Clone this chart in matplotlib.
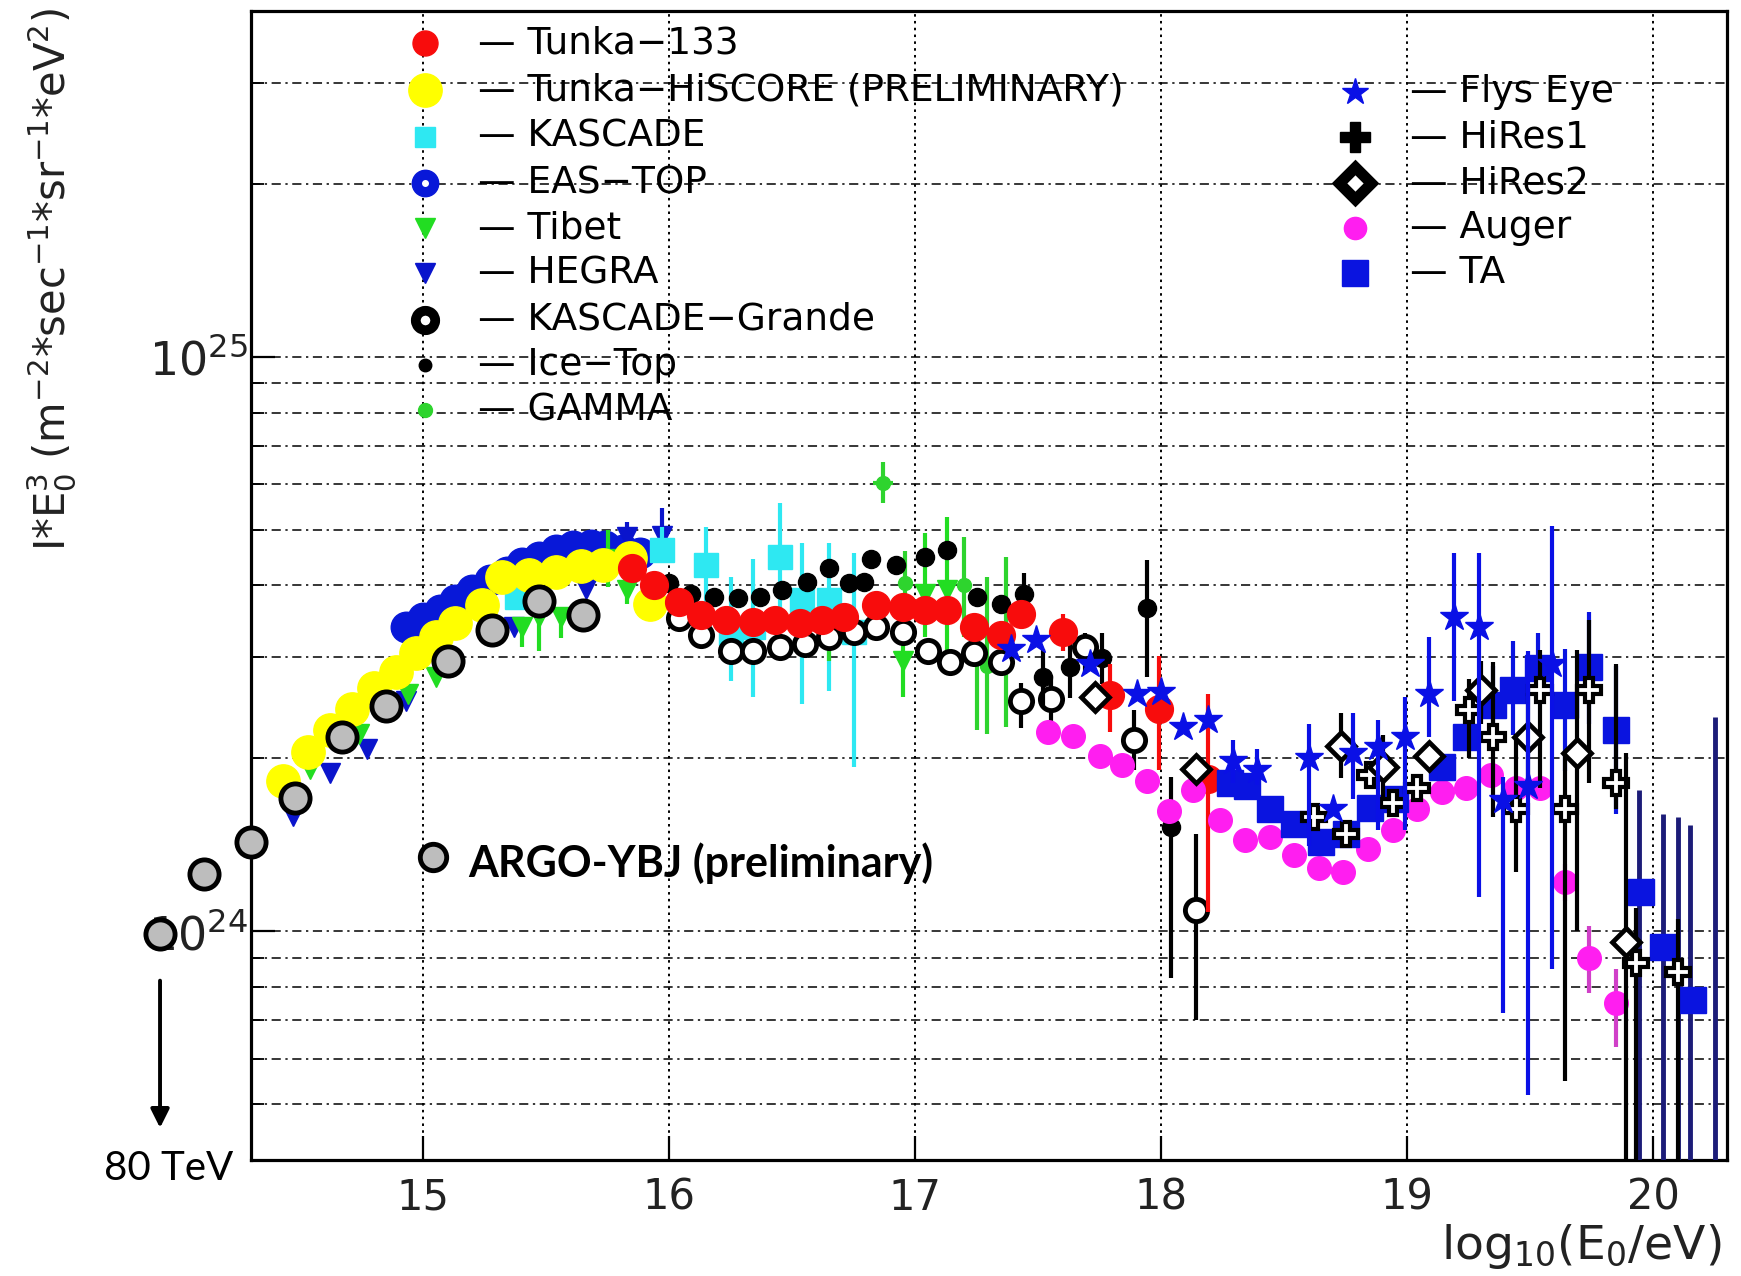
import numpy as np
import matplotlib
matplotlib.use("Agg")
import matplotlib.pyplot as plt
from matplotlib.ticker import LogLocator, FixedLocator, NullFormatter, LogFormatterSciNotation

plt.rcParams['font.family'] = ['DejaVu Sans']
plt.rcParams['mathtext.fontset'] = 'dejavusans'

UNIT = 1e24  # flux values below are in units of 1e24 m^-2 s^-1 sr^-1 eV^2

# ---------------- data: log10(E/eV) and flux (x 1e24) ----------------
argo_x = [13.93, 14.11, 14.30, 14.48, 14.67, 14.85, 15.10, 15.28, 15.47, 15.65]
argo_y = [0.99, 1.26, 1.43, 1.71, 2.18, 2.47, 2.96, 3.34, 3.76, 3.55]

tunka_x = [15.85, 15.94, 16.04, 16.13, 16.23, 16.34, 16.43, 16.53, 16.62, 16.71,
           16.84, 16.95, 17.04, 17.13, 17.24, 17.35, 17.43, 17.60, 17.79, 17.99, 18.19]
tunka_y = [4.29, 4.01, 3.75, 3.56, 3.48, 3.46, 3.48, 3.44, 3.48, 3.53,
           3.70, 3.67, 3.62, 3.62, 3.39, 3.28, 3.57, 3.32, 2.58, 2.44, 1.84]
tunka_bar_x = [17.60, 17.79, 17.99, 18.19]
tunka_bar_lo = [3.08, 2.22, 1.91, 1.08]
tunka_bar_hi = [3.57, 2.92, 3.01, 2.59]

hiscore_x = [14.43, 14.53, 14.62, 14.71, 14.80, 14.89, 14.97, 15.05, 15.13,
             15.24, 15.32, 15.43, 15.54, 15.64, 15.73, 15.84, 15.92]
hiscore_y = [1.83, 2.05, 2.24, 2.44, 2.65, 2.83, 3.05, 3.26, 3.44,
             3.70, 4.14, 4.17, 4.23, 4.32, 4.35, 4.47, 3.72]

kascade_x = [15.38, 15.97, 16.15, 16.25, 16.34, 16.45, 16.54, 16.65, 16.75]
kascade_y = [3.82, 4.61, 4.35, 3.31, 3.39, 4.49, 3.78, 3.78, 3.32]
kascade_lo = [3.70, 4.43, 3.72, 2.73, 2.56, 3.53, 2.49, 2.62, 1.93]
kascade_hi = [3.95, 5.06, 5.06, 4.14, 4.44, 5.57, 4.74, 4.74, 4.56]

eastop_x = [14.93, 15.00, 15.07, 15.13, 15.20, 15.27, 15.34, 15.40,
            15.47, 15.54, 15.61, 15.68, 15.74, 15.81, 15.88]
eastop_y = [3.39, 3.51, 3.62, 3.78, 3.93, 4.09, 4.23, 4.38,
            4.49, 4.61, 4.68, 4.71, 4.68, 4.61, 4.55]

tibet_x = [14.54, 14.74, 14.94, 15.05, 15.40, 15.47, 15.56, 15.75, 15.83, 16.95, 17.04, 17.13]
tibet_y = [1.92, 2.21, 2.59, 2.77, 3.39, 3.53, 3.53, 4.44, 3.93, 2.96, 3.87, 3.93]
tibet_bar_x = [15.40, 15.47, 15.56, 15.75, 15.83, 16.95, 17.04, 17.13]
tibet_bar_lo = [3.13, 3.08, 3.24, 3.98, 3.72, 2.56, 3.25, 3.08]
tibet_bar_hi = [3.44, 3.62, 3.58, 5.00, 4.14, 3.26, 4.93, 5.27]

hegra_x = [14.47, 14.62, 14.77, 14.93, 15.37, 15.66, 15.83, 15.97]
hegra_y = [1.59, 1.89, 2.08, 2.52, 3.39, 3.95, 4.86, 4.88]
hegra_bar_x = [15.83, 15.97]
hegra_bar_lo = [4.61, 4.80]
hegra_bar_hi = [5.16, 5.46]

kg_x = [16.04, 16.13, 16.25, 16.34, 16.45, 16.55, 16.65, 16.75, 16.84, 16.95,
        17.05, 17.14, 17.24, 17.35, 17.43, 17.55, 17.69, 17.89, 18.14]
kg_y = [3.51, 3.28, 3.08, 3.08, 3.13, 3.17, 3.26, 3.32, 3.39, 3.32,
        3.08, 2.94, 3.05, 2.94, 2.52, 2.54, 3.13, 2.15, 1.09]
kg_bar_x = [17.43, 17.55, 17.69, 17.89, 18.14]
kg_bar_lo = [2.26, 2.24, 2.80, 1.91, 0.70]
kg_bar_hi = [2.71, 2.78, 3.30, 2.43, 1.48]

icetop_x = [16.00, 16.09, 16.18, 16.28, 16.37, 16.46, 16.56, 16.65, 16.73, 16.79, 16.82,
            16.92, 17.04, 17.13, 17.25, 17.35, 17.44, 17.52, 17.63, 17.76, 17.94, 18.04]
icetop_y = [4.04, 3.87, 3.82, 3.80, 3.82, 3.93, 4.06, 4.29, 4.04, 4.06, 4.44,
            4.35, 4.49, 4.61, 3.82, 3.72, 3.87, 2.77, 2.88, 2.99, 3.65, 1.52]
icetop_bar_x = [17.44, 17.52, 17.63, 17.76, 17.94, 18.04]
icetop_bar_lo = [3.62, 2.45, 2.55, 2.70, 2.77, 0.83]
icetop_bar_hi = [4.20, 3.10, 3.20, 3.30, 4.43, 1.86]

gamma_x = [16.65, 16.87, 16.96, 17.20, 17.25, 17.29, 17.37]
gamma_y = [3.26, 6.03, 4.04, 4.01, 3.08, 2.90, 3.16]
gamma_lo = [2.95, 5.57, 3.60, 3.26, 2.24, 2.21, 2.27]
gamma_hi = [3.60, 6.55, 4.60, 4.86, 3.21, 4.14, 4.49]

flys_x = [17.39, 17.49, 17.71, 17.90, 18.00, 18.09, 18.19, 18.29, 18.39, 18.60,
          18.70, 18.78, 18.88, 18.99, 19.09, 19.19, 19.29, 19.39, 19.49, 19.59]
flys_y = [3.10, 3.21, 2.92, 2.59, 2.61, 2.27, 2.33, 1.98, 1.91, 2.00,
          1.63, 2.04, 2.09, 2.18, 2.59, 3.53, 3.39, 1.69, 1.79, 2.92]
flys_bar_x = [18.29, 18.39, 18.60, 18.78, 18.88, 18.99, 19.09, 19.19, 19.29, 19.39, 19.49, 19.59]
flys_bar_lo = [1.81, 1.80, 1.41, 1.70, 1.50, 1.50, 2.18, 2.52, 1.15, 0.72, 0.52, 0.86]
flys_bar_hi = [2.15, 2.08, 2.30, 2.40, 2.33, 2.56, 3.26, 4.56, 4.56, 1.86, 3.08, 5.07]

hires1_x = [18.62, 18.75, 18.85, 18.94, 19.04, 19.25, 19.35, 19.44, 19.54, 19.64, 19.74, 19.85, 19.93, 20.10]
hires1_y = [1.58, 1.48, 1.87, 1.67, 1.78, 2.43, 2.18, 1.63, 2.63, 1.63, 2.63, 1.81, 0.88, 0.85]
hires1_bar_x = [19.25, 19.35, 19.44, 19.54, 19.64, 19.74, 19.85, 19.93, 20.10]
hires1_bar_lo = [2.00, 1.58, 1.27, 1.78, 0.55, 1.81, 1.63, 0.30, 0.30]
hires1_bar_hi = [2.75, 2.94, 2.21, 3.09, 2.05, 3.48, 2.92, 1.10, 1.05]

hires2_x = [17.73, 18.14, 18.73, 18.90, 19.09, 19.30, 19.49, 19.69, 19.89]
hires2_y = [2.56, 1.92, 2.10, 1.93, 2.02, 2.63, 2.18, 2.04, 0.96]
hires2_bar_x = [18.73, 18.90, 19.30, 19.49, 19.69, 19.89]
hires2_bar_lo = [1.85, 1.70, 2.30, 1.75, 1.00, 0.30]
hires2_bar_hi = [2.40, 2.20, 2.95, 2.60, 3.09, 2.04]

auger_x = [17.54, 17.64, 17.75, 17.84, 17.94, 18.03, 18.13, 18.24, 18.34, 18.44, 18.54, 18.64,
           18.74, 18.84, 18.94, 19.04, 19.14, 19.24, 19.34, 19.44, 19.54, 19.64, 19.74, 19.85]
auger_y = [2.22, 2.19, 2.02, 1.95, 1.83, 1.62, 1.76, 1.56, 1.44, 1.46, 1.36, 1.29,
           1.27, 1.39, 1.50, 1.63, 1.75, 1.78, 1.87, 1.78, 1.78, 1.22, 0.90, 0.75]
auger_bar_x = [19.64, 19.74, 19.85]
auger_bar_lo = [1.13, 0.78, 0.63]
auger_bar_hi = [1.31, 1.02, 0.86]

ta_x = [18.28, 18.35, 18.44, 18.54, 18.65, 18.75, 18.85, 18.95, 19.14, 19.24,
        19.35, 19.43, 19.53, 19.64, 19.74, 19.85, 19.95, 20.04, 20.16]
ta_y = [1.81, 1.79, 1.63, 1.54, 1.43, 1.48, 1.64, 1.70, 1.93, 2.18,
        2.48, 2.63, 2.87, 2.48, 2.88, 2.24, 1.17, 0.94, 0.76]
ta_bar_x = [19.35, 19.43, 19.53, 19.64, 19.74, 19.85]
ta_bar_lo = [2.10, 2.20, 2.50, 1.90, 2.30, 1.60]
ta_bar_hi = [2.90, 3.20, 3.30, 3.10, 3.60, 2.90]
ta_limit_x = [19.94, 20.04, 20.10, 20.15, 20.25]
ta_limit_top = [1.76, 1.60, 1.58, 1.53, 2.36]

x_ticks = [15, 16, 17, 18, 19, 20]
x_ticklabels = ["15", "16", "17", "18", "19", "20"]

# ---------------- figure ----------------
fig = plt.figure(figsize=(17.41, 12.76), dpi=100)
ax = fig.add_axes([0.1442, 0.0909, 0.8478, 0.9005])
ax.set_yscale('log')
ax.set_xlim(14.3, 20.3)
ax.set_ylim(4e23, 4e25)

def f(v):
    return np.asarray(v, dtype=float) * UNIT

def series(x, y, z, **kw):
    ax.plot(x, f(y), linestyle='none', zorder=z, **kw)

def bars(x, lo, hi, color, z, lw=3.0):
    ax.vlines(x, f(lo), f(hi), colors=color, lw=lw, zorder=z)

RED = '#f80c0c'
YEL = '#ffff00'
CYAN = '#2ee8f2'
EASB = '#0818d8'
TIB = '#22dd22'
HEG = '#0a14cc'
GAM = '#2ed42e'
FLY = '#0a10e6'
AUG = '#ff1ef0'
TAB = '#0a14e0'
NAVY = '#1c1c78'

# lower-energy data
series(eastop_x, eastop_y, 3.0, marker='o', ms=22, color=EASB, mec=EASB)
series(hegra_x, hegra_y, 3.1, marker='v', ms=14, color=HEG, mec=HEG)
bars(hegra_bar_x, hegra_bar_lo, hegra_bar_hi, HEG, 3.1)
bars(tibet_bar_x, tibet_bar_lo, tibet_bar_hi, TIB, 3.2)
series(tibet_x, tibet_y, 3.2, marker='v', ms=15, color=TIB, mec=TIB)
bars(kascade_x, kascade_lo, kascade_hi, CYAN, 3.3)
series(kascade_x, kascade_y, 3.3, marker='s', ms=17, color=CYAN, mec=CYAN)
series(hiscore_x, hiscore_y, 3.4, marker='o', ms=24, color=YEL, mec=YEL)
bars(gamma_x, gamma_lo, gamma_hi, GAM, 3.5)
ax.hlines(f(gamma_y[1:2]), np.array(gamma_x[1:2]) - 0.04, np.array(gamma_x[1:2]) + 0.04,
          colors=GAM, lw=3, zorder=3.5)
series(gamma_x, gamma_y, 3.5, marker='o', ms=10, color=GAM, mec=GAM)
bars(kg_bar_x, kg_bar_lo, kg_bar_hi, 'black', 3.6)
series(kg_x, kg_y, 3.6, marker='o', ms=16, mfc='white', mec='black', mew=3.5)
bars(icetop_bar_x, icetop_bar_lo, icetop_bar_hi, 'black', 3.7)
series(icetop_x, icetop_y, 3.7, marker='o', ms=13, color='black')
bars(tunka_bar_x, tunka_bar_lo, tunka_bar_hi, RED, 3.8)
series(tunka_x, tunka_y, 3.8, marker='o', ms=20, color=RED, mec=RED)

# ultra-high-energy data
bars(auger_bar_x, auger_bar_lo, auger_bar_hi, '#d040c8', 4.0)
series(auger_x, auger_y, 4.0, marker='o', ms=17, color=AUG, mec=AUG)
bars(ta_bar_x, ta_bar_lo, ta_bar_hi, TAB, 4.1)
ax.vlines(ta_limit_x, 1e22, f(ta_limit_top), colors=NAVY, lw=3.5, zorder=4.1)
series(ta_x, ta_y, 4.1, marker='s', ms=19, color=TAB, mec=TAB)
bars(hires1_bar_x, hires1_bar_lo, hires1_bar_hi, 'black', 4.2)
series(hires1_x, hires1_y, 4.2, marker='P', ms=17, mfc='white', mec='black', mew=3.0)
bars(hires2_bar_x, hires2_bar_lo, hires2_bar_hi, 'black', 4.3)
series(hires2_x, hires2_y, 4.3, marker='D', ms=14, mfc='white', mec='black', mew=3.4)
bars(flys_bar_x, flys_bar_lo, flys_bar_hi, FLY, 4.4)
series(flys_x, flys_y, 4.4, marker='*', ms=21, color=FLY, mec=FLY)

# ARGO-YBJ points (extend beyond the left frame)
ax.plot(argo_x, f(argo_y), linestyle='none', marker='o', ms=21, mfc='#bdbdbd',
        mec='black', mew=3.5, zorder=6, clip_on=False)

# ---------------- axes styling ----------------
for s in ax.spines.values():
    s.set_linewidth(2.3)
ax.xaxis.set_major_locator(FixedLocator(x_ticks))
ax.set_xticklabels(x_ticklabels)
ax.xaxis.set_minor_locator(FixedLocator([]))
ax.yaxis.set_major_locator(LogLocator(base=10))
ax.yaxis.set_minor_locator(LogLocator(base=10, subs=np.arange(2, 10)))
ax.yaxis.set_minor_formatter(NullFormatter())
ax.yaxis.set_major_formatter(LogFormatterSciNotation())
ax.tick_params(which='major', direction='in', length=17, width=1.6,
               top=False, right=False)
ax.tick_params(which='minor', direction='in', length=9, width=1.3, top=False, right=False)
ax.tick_params(axis='x', which='major', pad=12, labelsize=30)
ax.tick_params(axis='y', which='major', pad=2, labelsize=33)
for lab in ax.get_xticklabels() + ax.get_yticklabels():
    lab.set_color('#222222')

ax.grid(True, which='both', axis='y', color='black', lw=1.1, linestyle=(0, (6, 3, 1.5, 3)))
ax.grid(True, which='major', axis='x', color='black', lw=1.4, linestyle=(0, (1.3, 2.2)))
ax.set_axisbelow(True)

ax.set_ylabel(r"I*E$_0^3$ (m$^{-2}$*sec$^{-1}$*sr$^{-1}$*eV$^{2}$)", fontsize=30, color='#222222')
ax.yaxis.set_label_coords(-0.135, 0.766)
ax.yaxis.label.set_va('center')
ax.set_xlabel(r"log$_{10}$(E$_0$/eV)", fontsize=34, color='#222222')
ax.xaxis.set_label_coords(0.996, -0.075)
ax.xaxis.label.set_ha('right')
ax.xaxis.label.set_va('center')

# ---------------- legend (drawn in axes coordinates) ----------------
LEG_FS = 27
DASH = "\u2014 "
left_rows = [0.9719, 0.9312, 0.8906, 0.8500, 0.8109, 0.7717, 0.7311, 0.6919, 0.6527]
left_entries = [
    ("Tunka\u2212133", dict(marker='o', ms=18, color=RED, mec=RED)),
    ("Tunka\u2212HiSCORE (PRELIMINARY)", dict(marker='o', ms=24, color=YEL, mec=YEL)),
    ("KASCADE", dict(marker='s', ms=15, color=CYAN, mec=CYAN)),
    ("EAS\u2212TOP", dict(marker='o', ms=19, color=EASB, mec=EASB)),
    ("Tibet", dict(marker='v', ms=15, color=TIB, mec=TIB)),
    ("HEGRA", dict(marker='v', ms=15, color=HEG, mec=HEG)),
    ("KASCADE\u2212Grande", dict(marker='o', ms=14, mfc='white', mec='black', mew=7)),
    ("Ice\u2212Top", dict(marker='o', ms=9, color='black')),
    ("GAMMA", dict(marker='o', ms=10, color=GAM, mec=GAM)),
]
for yy, (txt, kw) in zip(left_rows, left_entries):
    ax.plot([0.118], [yy], transform=ax.transAxes, clip_on=False, zorder=7, linestyle='none', **kw)
    ax.text(0.1535, yy, DASH + txt, transform=ax.transAxes, fontsize=LEG_FS, va='center',
            ha='left', color='black', zorder=7)
# small white centre of the EAS-TOP legend marker
ax.plot([0.118], [left_rows[3]], transform=ax.transAxes, clip_on=False, zorder=7.5,
        linestyle='none', marker='o', ms=4, color='white')

right_rows = [0.9298, 0.8901, 0.8500, 0.8109, 0.7717]
right_entries = [
    ("Flys Eye", dict(marker='*', ms=20, color=FLY, mec=FLY)),
    ("HiRes1", dict(marker='P', ms=21, color='black')),
    ("HiRes2", dict(marker='D', ms=16, mfc='white', mec='black', mew=8)),
    ("Auger", dict(marker='o', ms=16, color=AUG, mec=AUG)),
    ("TA", dict(marker='s', ms=19, color=TAB, mec=TAB)),
]
for yy, (txt, kw) in zip(right_rows, right_entries):
    ax.plot([0.748], [yy], transform=ax.transAxes, clip_on=False, zorder=7, linestyle='none', **kw)
    ax.text(0.7854, yy, DASH + txt, transform=ax.transAxes, fontsize=LEG_FS, va='center',
            ha='left', color='black', zorder=7)

# ARGO-YBJ label
ax.plot([0.123], [0.264], transform=ax.transAxes, linestyle='none', marker='o', ms=19,
        mfc='#bdbdbd', mec='black', mew=3.5, zorder=7, clip_on=False)
ax.text(0.147, 0.2585, "ARGO-YBJ (preliminary)", transform=ax.transAxes, fontsize=31,
        fontfamily='Lato', fontweight='bold', va='center', ha='left', color='black', zorder=7)

# 80 TeV arrow and text
ax.annotate('', xy=(argo_x[0], 4.5e23), xytext=(argo_x[0], 8.3e23),
            arrowprops=dict(arrowstyle='-|>', lw=2.8, color='black', mutation_scale=28),
            annotation_clip=False)
fig.text(0.0971, 0.0839, "80 TeV", fontsize=29, fontfamily='Lato', ha='center', va='center')

fig.savefig("out.png", dpi=100)
